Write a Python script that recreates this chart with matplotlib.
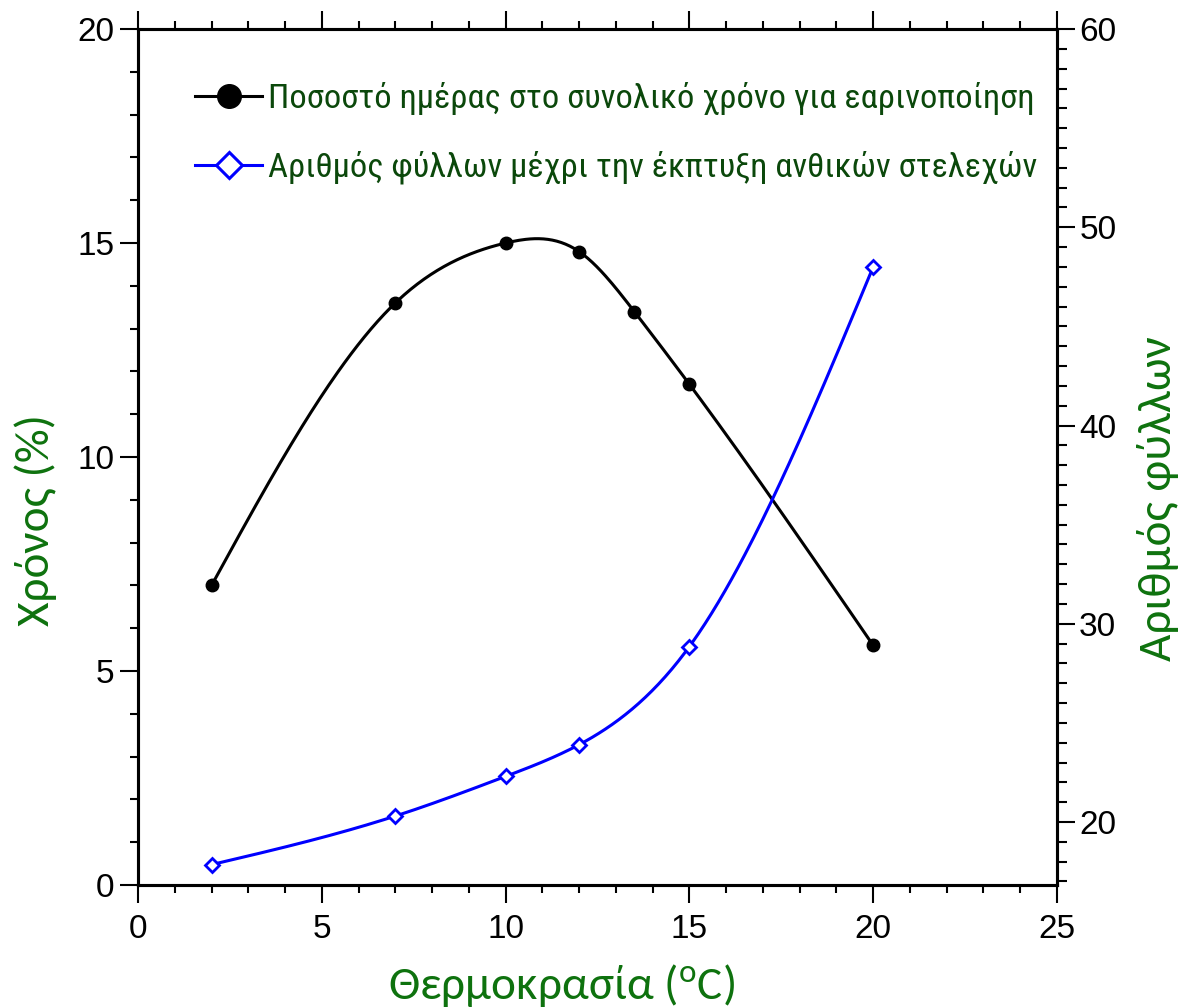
import numpy as np
import matplotlib
matplotlib.use("Agg")
import matplotlib.pyplot as plt
from matplotlib.ticker import MultipleLocator

# data
temperature_black = [2, 7, 10, 12, 13.5, 15, 20]
time_percent = [7.0, 13.6, 15.0, 14.8, 13.4, 11.7, 5.6]

temperature_blue = [2, 7, 10, 12, 15, 20]
leaf_number = [17.85, 20.3, 22.3, 23.9, 28.85, 48.0]

label_black = "Ποσοστό ημέρας στο συνολικό χρόνο για εαρινοποίηση"
label_blue = "Αριθμός φύλλων μέχρι την έκπτυξη ανθικών στελεχών"

plt.rcParams['font.family'] = ['Liberation Sans', 'DejaVu Sans']
plt.rcParams['mathtext.fontset'] = 'custom'
plt.rcParams['mathtext.rm'] = 'Carlito'

label_green = '#0e720e'
legend_green = '#0b480b'
label_font = ['Carlito', 'Noto Sans', 'DejaVu Sans']
legend_font = ['Roboto Condensed', 'Liberation Sans', 'DejaVu Sans']


# natural cubic spline, only used to draw the smooth connecting line
def smooth_line(x, y, n=300):
    x = np.asarray(x, float)
    y = np.asarray(y, float)
    k = len(x)
    h = np.diff(x)
    A = np.zeros((k, k))
    b = np.zeros(k)
    A[0, 0] = 1
    A[-1, -1] = 1
    for i in range(1, k - 1):
        A[i, i - 1] = h[i - 1]
        A[i, i] = 2 * (h[i - 1] + h[i])
        A[i, i + 1] = h[i]
        b[i] = 3 * ((y[i + 1] - y[i]) / h[i] - (y[i] - y[i - 1]) / h[i - 1])
    c = np.linalg.solve(A, b)
    xs = np.linspace(x[0], x[-1], n)
    idx = np.clip(np.searchsorted(x, xs) - 1, 0, k - 2)
    dx = xs - x[idx]
    bb = (y[idx + 1] - y[idx]) / h[idx] - h[idx] * (2 * c[idx] + c[idx + 1]) / 3
    dd = (c[idx + 1] - c[idx]) / (3 * h[idx])
    ys = y[idx] + bb * dx + c[idx] * dx ** 2 + dd * dx ** 3
    return xs, ys


fig = plt.figure(figsize=(11.84, 10.08), dpi=100)
ax = fig.add_axes([0.1166, 0.122, 0.7761, 0.8492])
ax2 = ax.twinx()

# black series on left axis
xs, ys = smooth_line(temperature_black, time_percent)
ax.plot(xs, ys, color='black', lw=2.2, zorder=3)
ax.plot(temperature_black, time_percent, 'o', color='black', ms=9, zorder=4)

# blue series on right axis
xs, ys = smooth_line(temperature_blue, leaf_number)
ax2.plot(xs, ys, color='#0000ff', lw=2.2, zorder=3)
ax2.plot(temperature_blue, leaf_number, 'D', mfc='white', mec='#0000ff', mew=2, ms=7, color='#0000ff', zorder=4)

ax.set_xlim(0, 25)
ax.set_ylim(0, 20)
ax2.set_ylim(16.82, 60)

ax.xaxis.set_major_locator(MultipleLocator(5))
ax.xaxis.set_minor_locator(MultipleLocator(1))
ax.yaxis.set_major_locator(MultipleLocator(5))
ax.yaxis.set_minor_locator(MultipleLocator(1))
ax2.yaxis.set_major_locator(MultipleLocator(10))
ax2.yaxis.set_minor_locator(MultipleLocator(1))

ax.tick_params(which='both', direction='out', top=True, width=1.5, labelsize=24, colors='black')
ax.tick_params(which='major', length=13)
ax.tick_params(which='minor', length=6)
ax.tick_params(axis='x', pad=8)
ax.tick_params(axis='y', pad=4)
ax2.tick_params(which='both', direction='out', width=1.5, labelsize=24)
ax2.tick_params(which='major', length=13, pad=3)
ax2.tick_params(which='minor', length=7)

for a in (ax, ax2):
    for s in a.spines.values():
        s.set_linewidth(2.2)

# axis titles placed as in the reference (slightly off-centre)
fig.text(0.474, 0.022, r'Θερμοκρασία ($\mathregular{^{o}}$C)', fontsize=34, color=label_green,
         family=label_font, ha='center', va='center')
fig.text(0.03, 0.484, 'Χρόνος (%)', fontsize=34, color=label_green, family=label_font,
         rotation=90, ha='center', va='center')
fig.text(0.978, 0.505, 'Αριθμός φύλλων', fontsize=34, color=label_green, family=label_font,
         rotation=90, ha='center', va='center')

# legend with proxy handles (bigger markers)
h1, = ax.plot([], [], '-o', color='black', lw=2.2, ms=17)
h2, = ax.plot([], [], '-D', color='#0000ff', mfc='white', mec='#0000ff', mew=2.2, lw=2.2, ms=13)
leg = fig.legend([h1, h2], [label_black, label_blue], loc='upper left',
                 bbox_to_anchor=(0.1647, 0.919), frameon=False, handlelength=1.95,
                 handletextpad=0.17, labelspacing=1.05, borderpad=0, borderaxespad=0,
                 prop={'family': legend_font, 'size': 24.8})
for t in leg.get_texts():
    t.set_color(legend_green)

fig.savefig('out.png', dpi=100)
